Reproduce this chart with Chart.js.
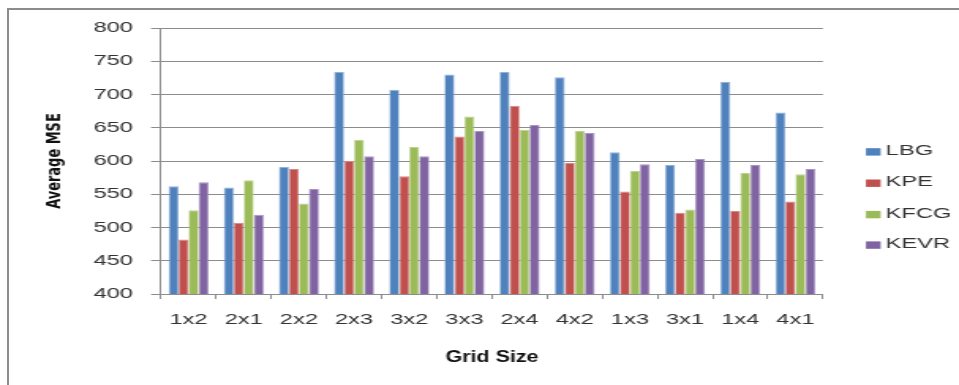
<!DOCTYPE html>
<html>
<head>
<meta charset="utf-8">
<script src="https://cdn.jsdelivr.net/npm/chart.js@4/dist/chart.umd.min.js"></script>
<style>
  html, body { margin: 0; padding: 0; background: #ffffff; }
  body { width: 959px; height: 385px; position: relative; overflow: hidden; }
  #wrap {
    position: absolute; left: 0; top: 0;
    width: 607px; height: 385px;
    transform: scaleX(1.5799); transform-origin: 0 0;
  }
  #frame {
    position: absolute; left: 7px; top: 8px; right: 0; bottom: -10px;
    border-left: 2px solid #8c8c8c; border-top: 2px solid #8c8c8c;
    pointer-events: none;
  }
</style>
</head>
<body>
<div id="wrap"><canvas id="chart"></canvas></div>
<div id="frame"></div>
<script>
// Grid sizes along the x axis
const categories = ['1x2', '2x1', '2x2', '2x3', '3x2', '3x3', '2x4', '4x2', '1x3', '3x1', '1x4', '4x1'];

// Average MSE per codebook method
const lbg  = [562, 560, 591, 734, 707, 730, 734, 726, 613, 594, 719, 673];
const kpe  = [482, 507, 588, 600, 577, 637, 683, 597, 554, 522, 525, 539];
const kfcg = [526, 571, 536, 632, 621, 667, 647, 645, 585, 527, 582, 580];
const kevr = [568, 519, 558, 607, 607, 645, 654, 642, 595, 603, 594, 588];

// Value axis ticks
const yTicks = [400, 450, 500, 550, 600, 650, 700, 750, 800];

const seriesNames = ['LBG', 'KPE', 'KFCG', 'KEVR'];
const fills   = ['#4f81bd', '#c0504d', '#9bbb59', '#8064a2'];
const borders = ['#8fb0d8', '#d98785', '#bcd48e', '#a994c4'];

// The canvas is laid out narrow and widened by the wrapper's scaleX.
const STRETCH = 959 / 607;
const GRID = '#8c8c8c';
const TEXT = '#333333';
const FONT = '"Liberation Sans", Arial, sans-serif';

const decorations = {
  id: 'decorations',
  afterDraw(chart) {
    const ctx = chart.ctx;
    const a = chart.chartArea;
    ctx.save();
    ctx.fillStyle = '#111111';
    ctx.textAlign = 'center';
    ctx.textBaseline = 'middle';

    // Value axis title: upright proportions, condensed along its length
    ctx.save();
    ctx.translate(35.1, (a.top + a.bottom) / 2);
    ctx.scale(1 / STRETCH, 1);
    ctx.rotate(-Math.PI / 2);
    ctx.scale(0.8, 1);
    ctx.font = 'bold 18px "Liberation Sans Narrow", "DejaVu Sans Condensed", sans-serif';
    ctx.fillText('Average MSE', 0, 0);
    ctx.restore();

    // Category axis title, only mildly widened
    ctx.save();
    ctx.translate((a.left + a.right) / 2, 357);
    ctx.scale(1.3 / STRETCH, 1);
    ctx.font = 'bold 16.5px ' + FONT;
    ctx.fillText('Grid Size', 0, 0);
    ctx.restore();

    // Legend
    const rows = [151, 182.3, 213.7, 244.2];
    ctx.textAlign = 'left';
    ctx.font = '15px ' + FONT;
    chart.data.datasets.forEach((ds, i) => {
      const cy = rows[i];
      ctx.fillStyle = ds.backgroundColor;
      ctx.fillRect(548.1, cy - 2.8, 9.3, 7.4);
      ctx.fillStyle = TEXT;
      ctx.fillText(ds.label, 560.6, cy);
    });
    ctx.restore();
  }
};

const datasets = [lbg, kpe, kfcg, kevr].map((values, i) => ({
  label: seriesNames[i],
  data: values,
  backgroundColor: fills[i],
  borderColor: borders[i],
  borderWidth: { top: 1, left: 0.7, right: 0.7, bottom: 0 },
  borderSkipped: 'bottom',
  categoryPercentage: 0.725,
  barPercentage: 1.0
}));

new Chart(document.getElementById('chart'), {
  type: 'bar',
  data: { labels: categories, datasets },
  plugins: [decorations],
  options: {
    responsive: true,
    maintainAspectRatio: false,
    animation: false,
    layout: { padding: { left: 0, top: 28, right: 86.1, bottom: 0 } },
    plugins: {
      legend: { display: false },
      tooltip: { enabled: false }
    },
    scales: {
      x: {
        offset: true,
        grid: {
          offset: true,
          drawOnChartArea: false,
          drawTicks: true,
          tickLength: 5,
          color: GRID
        },
        border: { display: true, color: GRID, width: 1 },
        ticks: {
          color: TEXT,
          font: { family: FONT, size: 15 },
          padding: 12,
          maxRotation: 0,
          autoSkip: false
        },
        afterFit(scale) { scale.height = 91; }
      },
      y: {
        min: yTicks[0],
        max: yTicks[yTicks.length - 1],
        afterBuildTicks(scale) { scale.ticks = yTicks.map(v => ({ value: v })); },
        grid: {
          color: GRID,
          lineWidth: 1,
          drawTicks: true,
          tickLength: 6.3
        },
        border: { display: true, color: GRID, width: 1 },
        ticks: {
          color: TEXT,
          font: { family: FONT, size: 15 },
          padding: 11.4
        },
        afterFit(scale) { scale.width = 101.9; }
      }
    }
  }
});
</script>
</body>
</html>
